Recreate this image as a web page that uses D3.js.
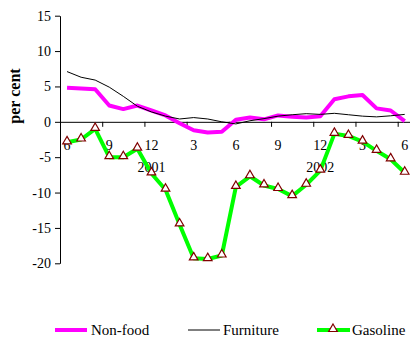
<!DOCTYPE html>
<head>
	<meta charset="utf-8">
	<script src="https://d3js.org/d3.v7.min.js"></script>
	<style>
		body { margin: 0; background: #fff; }
		text {
			font-family: "Liberation Serif", serif;
		}
		.axes text, .lbl {
			font-size: 14px;
			fill: #000;
		}
		.leg {
			font-size: 15px;
			fill: #000;
		}
		.ytitle {
			font-size: 16px;
			font-weight: bold;
		}
	</style>
</head>

<body>
	<script>
		// monthly % changes, June 2000 - June 2002
		var monthTicks = ["6", "", "", "9", "", "", "12", "", "", "3", "", "", "6", "", "", "9", "", "", "12", "", "", "3", "", "", "6"];
		var yearTicks = ["", "", "", "", "", "", "2001", "", "", "", "", "", "", "", "", "", "", "", "2002", "", "", "", "", "", ""];

		var nonFood = [4.8, 4.7, 4.6, 2.3, 1.8, 2.3, 1.6, 0.9, -0.2, -1.2, -1.5, -1.4, 0.3, 0.6, 0.35, 0.9, 0.7, 0.6, 0.8, 3.2, 3.6, 3.8, 1.9, 1.6, 0.1];
		var furniture = [7.1, 6.3, 5.9, 4.9, 3.6, 2.2, 1.4, 0.8, 0.4, 0.6, 0.4, 0.0, -0.3, 0.15, 0.45, 0.8, 1.0, 1.15, 1.05, 1.2, 1.0, 0.8, 0.7, 0.85, 1.05];
		var gasoline = [-2.9, -2.5, -1.0, -5.0, -5.0, -3.8, -7.3, -9.6, -14.5, -19.3, -19.4, -18.9, -9.2, -7.7, -9.0, -9.5, -10.5, -8.9, -6.9, -1.7, -2.0, -2.8, -4.1, -5.3, -7.2];

		var yTicks = [15, 10, 5, 0, -5, -10, -15, -20];

		var width = 410;
		var height = 341;
		var plot = { left: 60, top: 15.7, bottom: 263.3, step: 14.07 };

		var n = gasoline.length;

		// scales
		var xScale = d3.scaleLinear()
			.domain([0, n])
			.range([plot.left, plot.left + n * plot.step]);
		var yScale = d3.scaleLinear()
			.domain([15, -20])
			.range([plot.top, plot.bottom]);

		var svg = d3.select("body")
			.append("svg")
			.attr("width", width)
			.attr("height", height);

		// y axis
		svg.append("g")
			.attr("class", "axes")
			.attr("transform", "translate(" + [plot.left, 0] + ")")
			.call(d3.axisLeft(yScale).tickValues(yTicks).tickSize(5).tickSizeOuter(0).tickPadding(4)
				.tickFormat(function(d) { return String(d) }))
			.call(function(g) {
				g.attr("font-family", null).attr("font-size", null);
				g.selectAll("line, path").attr("stroke", "#000");
			});

		// x axis at zero, ticks between categories
		var xTickVals = d3.range(0, n, 3);
		svg.append("g")
			.attr("class", "axes")
			.attr("transform", "translate(" + [0, yScale(0)] + ")")
			.call(d3.axisBottom(xScale).tickValues(xTickVals).tickSize(5).tickSizeOuter(0).tickFormat(""))
			.call(function(g) {
				g.selectAll("line, path").attr("stroke", "#000");
			});

		// category labels
		svg.selectAll(".mon")
			.data(monthTicks)
			.enter()
			.append("text")
			.attr("class", "lbl")
			.attr("x", function(d, i) { return xScale(i + 0.5) })
			.attr("y", 150)
			.attr("text-anchor", "middle")
			.text(function(d) { return d });
		svg.selectAll(".yr")
			.data(yearTicks)
			.enter()
			.append("text")
			.attr("class", "lbl")
			.attr("x", function(d, i) { return xScale(i + 0.5) })
			.attr("y", 172)
			.attr("text-anchor", "middle")
			.text(function(d) { return d });

		// axis title
		svg.append("text")
			.attr("class", "ytitle")
			.attr("transform", "translate(" + [20, 96] + ") rotate(-90)")
			.attr("text-anchor", "middle")
			.text("per cent");

		var line = d3.line()
			.x(function(d, i) { return xScale(i + 0.5) })
			.y(function(d) { return yScale(d) });

		svg.append("path")
			.datum(nonFood)
			.attr("d", line)
			.attr("fill", "none")
			.attr("stroke", "#ff00ff")
			.attr("stroke-width", 4)
			.attr("stroke-linejoin", "round");
		svg.append("path")
			.datum(furniture)
			.attr("d", line)
			.attr("fill", "none")
			.attr("stroke", "#000")
			.attr("stroke-width", 1);
		svg.append("path")
			.datum(gasoline)
			.attr("d", line)
			.attr("fill", "none")
			.attr("stroke", "#00ff00")
			.attr("stroke-width", 4)
			.attr("stroke-linejoin", "round");

		var tri = d3.symbol().type(d3.symbolTriangle).size(32);
		svg.selectAll(".mk")
			.data(gasoline)
			.enter()
			.append("path")
			.attr("d", tri)
			.attr("transform", function(d, i) { return "translate(" + [xScale(i + 0.5), yScale(d) - 1] + ")" })
			.attr("fill", "#fff")
			.attr("stroke", "#800000")
			.attr("stroke-width", 1.2);

		// legend
		var legY = 330;
		var legend = svg.append("g");
		legend.append("line").attr("x1", 55).attr("x2", 87).attr("y1", legY).attr("y2", legY)
			.attr("stroke", "#ff00ff").attr("stroke-width", 4);
		legend.append("text").attr("class", "leg").attr("x", 91).attr("y", legY + 5).text("Non-food");
		legend.append("line").attr("x1", 188).attr("x2", 220).attr("y1", legY).attr("y2", legY)
			.attr("stroke", "#000").attr("stroke-width", 1);
		legend.append("text").attr("class", "leg").attr("x", 223).attr("y", legY + 5).text("Furniture");
		legend.append("line").attr("x1", 317).attr("x2", 350).attr("y1", legY).attr("y2", legY)
			.attr("stroke", "#00ff00").attr("stroke-width", 4);
		legend.append("path").attr("d", tri)
			.attr("transform", "translate(" + [333, legY - 1] + ")")
			.attr("fill", "#fff").attr("stroke", "#800000").attr("stroke-width", 1.2);
		legend.append("text").attr("class", "leg").attr("x", 352).attr("y", legY + 5).text("Gasoline");
	</script>
</body>
</html>
